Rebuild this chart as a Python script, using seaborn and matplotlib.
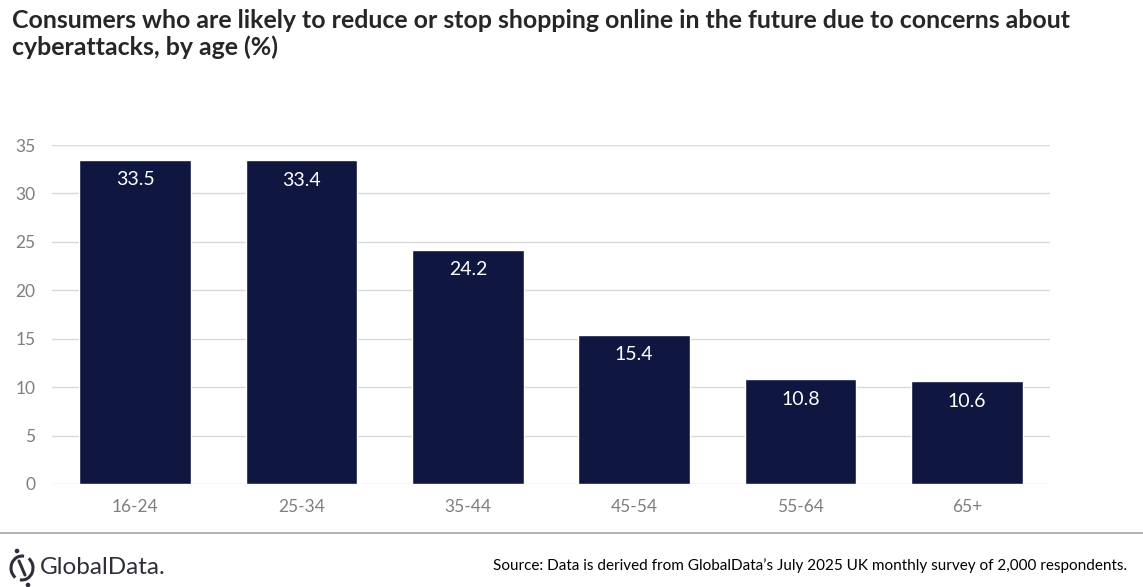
import matplotlib
matplotlib.use("Agg")
import matplotlib.pyplot as plt
import seaborn as sns
import pandas as pd
from matplotlib.patches import Arc, Circle

categories = ["16-24", "25-34", "35-44", "45-54", "55-64", "65+"]
values = [33.5, 33.4, 24.2, 15.4, 10.8, 10.6]
yticks = [0, 5, 10, 15, 20, 25, 30, 35]
title = ("Consumers who are likely to reduce or stop shopping online in the future due to concerns about\n"
         "cyberattacks, by age (%)")
source = "Source: Data is derived from GlobalData\u2019s July 2025 UK monthly survey of 2,000 respondents."

sns.set_theme(style="white")
plt.rcParams["font.family"] = ["Lato", "DejaVu Sans"]

df = pd.DataFrame({"age": categories, "value": values})

fig = plt.figure(figsize=(11.43, 5.87), dpi=100)
ax = fig.add_axes([52/1143, 1-484/587, (1050-52)/1143, (484-145)/587])

sns.barplot(data=df, x="age", y="value", color="#0F1640", width=0.67,
            saturation=1, ax=ax, zorder=3)

ax.set_ylim(0, 35)
ax.set_yticks(yticks)
ax.set_xlim(-0.5, len(categories)-0.5)
ax.yaxis.grid(True, color="#D9D9D9", linewidth=1, zorder=0)
ax.xaxis.grid(False)
for s in ax.spines.values():
    s.set_visible(False)
ax.set_xlabel("")
ax.set_ylabel("")
ax.tick_params(axis="y", length=0, pad=12, labelsize=12.5, labelcolor="#7F7F7F")
ax.tick_params(axis="x", length=0, pad=11, labelsize=12.5, labelcolor="#7F7F7F")

for i, v in enumerate(values):
    ax.annotate(f"{v:.1f}", xy=(i, v), xytext=(0, -14.5), textcoords="offset points",
                ha="center", va="center", color="white", fontsize=14)

fig.text(12/1143, 1-9/587, title, ha="left", va="top", fontsize=17.9,
         fontweight="bold", color="#262626", linespacing=1.17)

# overlay in pixel coordinates for separator and logo
ov = fig.add_axes([0, 0, 1, 1], zorder=-1)
ov.set_xlim(0, 1143)
ov.set_ylim(587, 0)
ov.axis("off")
ov.plot([0, 1143], [533, 533], color="#A6A6A6", linewidth=1.2)

logo_c = "#2E2E3A"
ov.add_patch(Arc((22, 568), 22, 24, theta1=-55, theta2=100, color=logo_c, lw=2.2))
ov.add_patch(Arc((22, 568), 22, 24, theta1=125, theta2=280, color=logo_c, lw=2.2))
ov.plot([19, 25], [561, 575], color=logo_c, lw=2.2, solid_capstyle="round")
ov.add_patch(Circle((17, 551), 1.6, color=logo_c))
ov.add_patch(Circle((28, 585), 1.6, color=logo_c))
ov.text(40, 568, "GlobalData.", ha="left", va="center", fontsize=17.5, color=logo_c)

fig.text(1127/1143, 1-566/587, source, ha="right", va="center", fontsize=11,
         color="#000000")

fig.savefig("out.png", dpi=100)
